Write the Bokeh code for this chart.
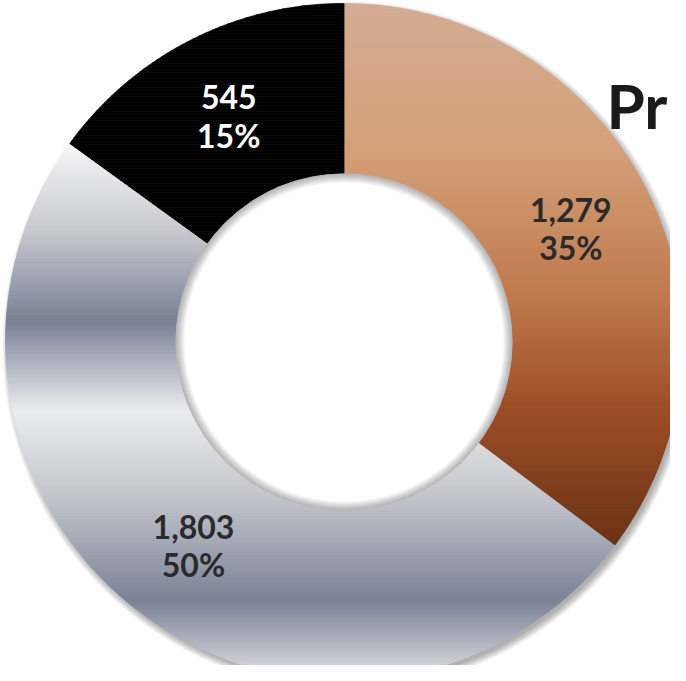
import numpy as np
from bokeh.plotting import figure
from bokeh.models import ColumnDataSource, Range1d
from bokeh.core.properties import value
from bokeh.embed import file_html
from bokeh.resources import INLINE

# ---- data ----
values = [1279, 1803, 545]
value_labels = ["1,279", "1,803", "545"]
pct_labels = ["35%", "50%", "15%"]
title_text = "Pr"

# ---- layout / style ----
W, H = 670, 665
CX, CY = 343.5, H - 341.5
R_OUT, R_IN = 338.5, 168.5
FONT = "Lato"

# gradient stops keyed by picture y (top-down)
copper_stops = [(0, (212, 172, 148)), (150, (212, 160, 120)), (300, (190, 120, 75)),
                (400, (160, 80, 40)), (545, (105, 50, 20))]
silver_stops = [(140, (248, 248, 248)), (230, (200, 202, 208)), (320, (120, 128, 148)),
                (410, (236, 237, 239)), (500, (192, 195, 202)), (600, (122, 130, 150)),
                (685, (234, 234, 236))]
black_stops = [(0, (0, 0, 0)), (700, (0, 0, 0))]
slice_gradients = [copper_stops, silver_stops, black_stops]
label_colors = ["#2b2b2b", "#2b2b2b", "#ffffff"]


def grad_color(stops, page_y):
    ys = [s[0] for s in stops]
    cols = np.array([s[1] for s in stops], dtype=float)
    r = np.interp(page_y, ys, cols[:, 0])
    g = np.interp(page_y, ys, cols[:, 1])
    b = np.interp(page_y, ys, cols[:, 2])
    return "#%02x%02x%02x" % (int(round(r)), int(round(g)), int(round(b)))


def clip_half(pts, inside, yv):
    out = []
    n = len(pts)
    for i in range(n):
        cur = pts[i]
        prev = pts[i - 1]
        ci, pi = inside(cur), inside(prev)
        if ci:
            if not pi:
                t = (yv - prev[1]) / (cur[1] - prev[1])
                out.append((prev[0] + t * (cur[0] - prev[0]), yv))
            out.append(cur)
        elif pi:
            t = (yv - prev[1]) / (cur[1] - prev[1])
            out.append((prev[0] + t * (cur[0] - prev[0]), yv))
    return out


def clip_band(pts, ylo, yhi):
    pts = clip_half(pts, lambda p: p[1] >= ylo, ylo)
    if len(pts) < 3:
        return []
    pts = clip_half(pts, lambda p: p[1] <= yhi, yhi)
    return pts if len(pts) >= 3 else []


p = figure(width=W, height=H, output_backend="svg", toolbar_location=None,
           x_range=Range1d(0, W), y_range=Range1d(0, H),
           x_axis_location=None, y_axis_location=None, min_border=0)
p.grid.visible = False
p.outline_line_color = None
p.background_fill_color = "white"
p.border_fill_color = "white"

# outer drop shadow
for k in range(8):
    p.circle(x=CX + 3, y=CY - 4, radius=R_OUT - 1 + k, fill_color="black",
             fill_alpha=0.045, line_color=None)

total = float(sum(values))
cum = 0.0
xs, ys, cols = [], [], []
label_pos = []
for i, v in enumerate(values):
    a0 = 90 - cum / total * 360
    cum += v
    a1 = 90 - cum / total * 360
    ang = np.radians(np.linspace(a0, a1, 240))
    outer = [(CX + R_OUT * np.cos(a), CY + R_OUT * np.sin(a)) for a in ang]
    inner = [(CX + R_IN * np.cos(a), CY + R_IN * np.sin(a)) for a in ang[::-1]]
    poly = outer + inner
    ymin = min(q[1] for q in poly)
    ymax = max(q[1] for q in poly)
    step = 3.0
    yb = ymin
    while yb < ymax:
        piece = clip_band(poly, yb, min(yb + step, ymax))
        if piece:
            page_y = H - (yb + step / 2)
            c = grad_color(slice_gradients[i], page_y)
            xs.append([q[0] for q in piece])
            ys.append([q[1] for q in piece])
            cols.append(c)
        yb += step
    mid = np.radians((a0 + a1) / 2)
    rm = (R_IN + R_OUT) / 2
    label_pos.append((CX + rm * np.cos(mid), CY + rm * np.sin(mid)))

src = ColumnDataSource(dict(xs=xs, ys=ys, c=cols))
p.patches("xs", "ys", source=src, fill_color="c", line_color="c", line_width=0.8)

# hole + inner shadow
p.circle(x=CX, y=CY, radius=R_IN, fill_color="white", line_color=None)
for k in range(1, 10):
    p.annulus(x=CX, y=CY, inner_radius=R_IN - k, outer_radius=R_IN,
              fill_color="black", fill_alpha=0.035, line_color=None)

# labels
lsrc = ColumnDataSource(dict(
    x=[q[0] for q in label_pos],
    y1=[q[1] + 19 for q in label_pos],
    y2=[q[1] - 19 for q in label_pos],
    v=value_labels, pc=pct_labels, col=label_colors))
p.text(x="x", y="y1", text="v", source=lsrc, text_color="col",
       text_font=value(FONT), text_font_style="bold", text_font_size="32px",
       text_align="center", text_baseline="middle")
p.text(x="x", y="y2", text="pc", source=lsrc, text_color="col",
       text_font=value(FONT), text_font_style="bold", text_font_size="32px",
       text_align="center", text_baseline="middle")

# title fragment, kept fully inside the canvas
p.text(x=[W - 3], y=[H - 104], text=[title_text], text_color="#1a1a1a",
       text_font=value(FONT), text_font_style="bold", text_font_size="62px",
       text_align="right", text_baseline="alphabetic")

open("out.html", "w").write(file_html(p, INLINE))
